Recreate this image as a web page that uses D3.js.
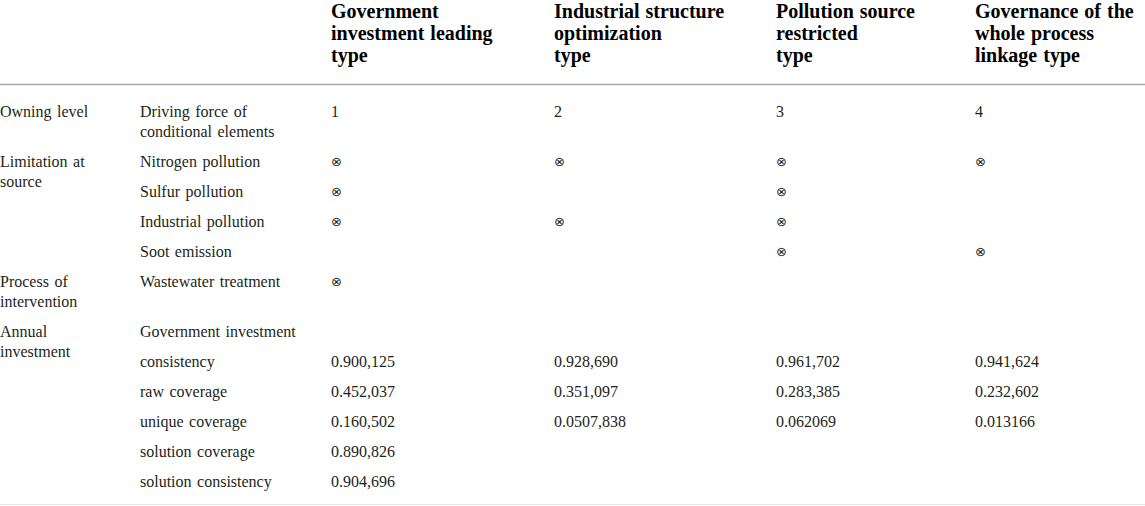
<!DOCTYPE html>
<html>
<head>
<meta charset="utf-8">
<script src="https://cdn.jsdelivr.net/npm/d3@7"></script>
<style>
  body { margin: 0; background: #fff; }
  text { font-family: "Liberation Serif", "DejaVu Serif", serif; fill: #231f20; }
  .head { font-weight: bold; font-size: 20px; word-spacing: 1px; fill: #000; }
  .cell { font-size: 16px; word-spacing: 1.5px; }
  .mark { font-family: "DejaVu Sans", sans-serif; font-size: 13px; }
</style>
</head>
<body>
<div id="canvas"></div>
<script>
// column headers (each entry = wrapped lines)
var columns = [
    ['Government', 'investment leading', 'type'],
    ['Industrial structure', 'optimization', 'type'],
    ['Pollution source', 'restricted', 'type'],
    ['Governance of the', 'whole process', 'linkage type']
];

// first column groups, and which row each one starts on / how many rows it spans
var groupLabels = [['Owning level'], ['Limitation at', 'source'], ['Process of', 'intervention'], ['Annual', 'investment']];
var groupStart = [0, 1, 5, 6];
var groupSpan  = [1, 4, 1, 6];

// second column
var rowLabels = [
    ['Driving force of', 'conditional elements'],
    ['Nitrogen pollution'],
    ['Sulfur pollution'],
    ['Industrial pollution'],
    ['Soot emission'],
    ['Wastewater treatment'],
    ['Government investment'],
    ['consistency'],
    ['raw coverage'],
    ['unique coverage'],
    ['solution coverage'],
    ['solution consistency']
];

var X = '\u2297';
var govInvestment = ['1', X, X, X, '', X, '', '0.900,125', '0.452,037', '0.160,502', '0.890,826', '0.904,696'];
var industrial    = ['2', X, '', X, '', '', '', '0.928,690', '0.351,097', '0.0507,838', '', ''];
var pollution     = ['3', X, X, X, X, '', '', '0.961,702', '0.283,385', '0.062069', '', ''];
var governance    = ['4', X, '', '', X, '', '', '0.941,624', '0.232,602', '0.013166', '', ''];
var series = [govInvestment, industrial, pollution, governance];

var W = 1145, H = 506;
var lineH = 20, rowGap = 10, headLineH = 22;

var svg = d3.select('#canvas').append('svg')
    .attr('width', W)
    .attr('height', H);

// x positions of the six columns
var x = d3.scaleOrdinal()
    .domain(['group', 'row', 0, 1, 2, 3])
    .range([0, 140, 331, 554, 776, 975]);

// row heights: lines of the row label, or of a one-row group label
var heights = rowLabels.map(function(d, i){
    var n = d.length;
    groupStart.forEach(function(s, g){
        if(s === i && groupSpan[g] === 1) n = Math.max(n, groupLabels[g].length);
    });
    return n * lineH + rowGap;
});
var tops = [];
heights.reduce(function(acc, h){ tops.push(acc); return acc + h; }, 117);
var y = d3.scaleOrdinal().domain(d3.range(rowLabels.length)).range(tops);

// header
var head = svg.append('g');
columns.forEach(function(lines, c){
    var t = head.append('text').attr('class', 'head').attr('x', x(c)).attr('y', 18);
    lines.forEach(function(l, k){
        t.append('tspan').attr('x', x(c)).attr('dy', k ? headLineH : 0).text(l);
    });
});

svg.append('line')
    .attr('x1', 0).attr('x2', W)
    .attr('y1', 84.5).attr('y2', 84.5)
    .style('stroke', '#a7a9ac')
    .style('stroke-width', '1.5px');

function multiline(g, lines, px, py){
    var t = g.append('text').attr('class', 'cell').attr('x', px).attr('y', py);
    lines.forEach(function(l, k){
        t.append('tspan').attr('x', px).attr('dy', k ? lineH : 0).text(l);
    });
}

var body = svg.append('g');

groupLabels.forEach(function(lines, g){
    multiline(body, lines, x('group'), y(groupStart[g]));
});

rowLabels.forEach(function(lines, i){
    multiline(body, lines, x('row'), y(i));
});

series.forEach(function(vals, c){
    body.selectAll(null)
        .data(vals)
        .enter()
        .append('text')
        .attr('class', function(d){ return d === X ? 'mark' : 'cell'; })
        .attr('x', x(c))
        .attr('y', function(d, i){ return d === X ? y(i) - 1 : y(i); })
        .text(function(d){ return d; });
});

svg.append('line')
    .attr('x1', 0).attr('x2', W)
    .attr('y1', 504.5).attr('y2', 504.5)
    .style('stroke', '#e6e6e6')
    .style('stroke-width', '1px');
</script>
</body>
</html>
